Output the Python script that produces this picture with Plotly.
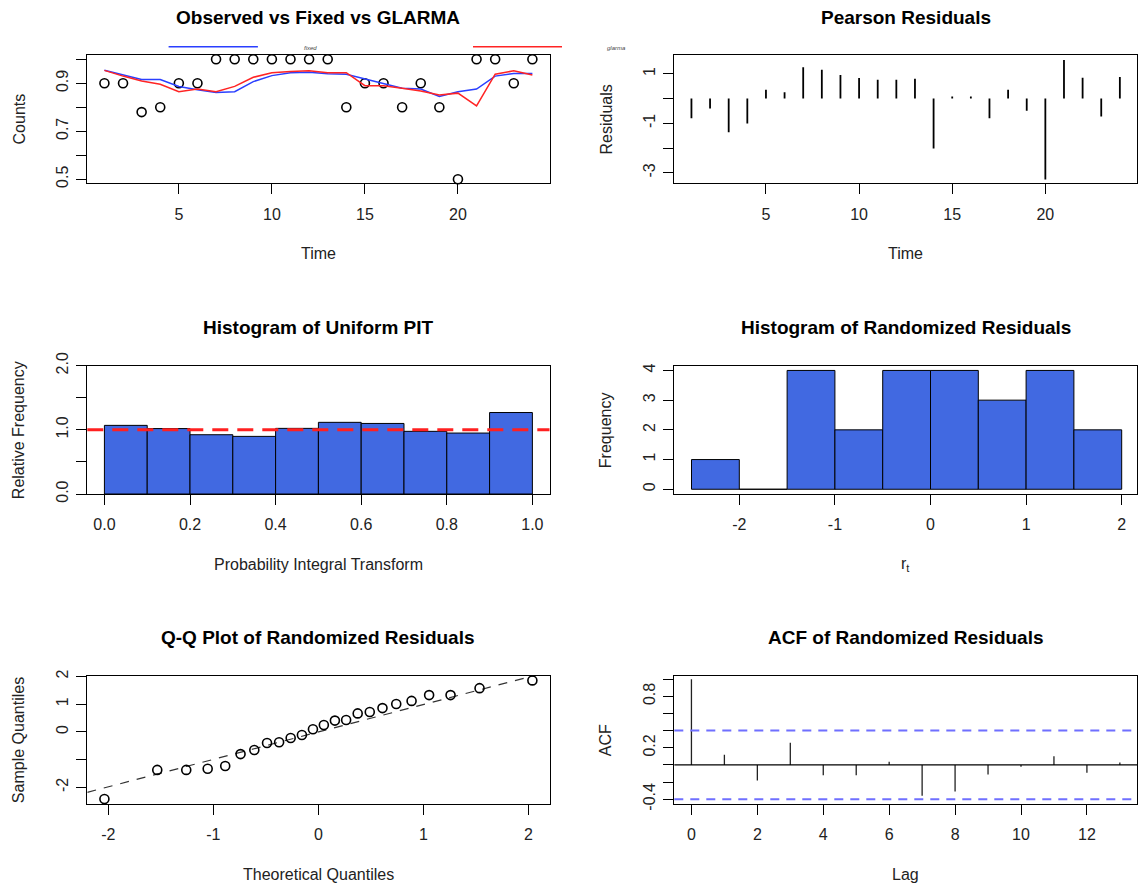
import plotly.graph_objects as go

W, H = 1138, 890

# ---------------- data ----------------
time = list(range(1, 25))
observed = [0.9, 0.9, 0.78, 0.8, 0.9, 0.9, 1.0, 1.0, 1.0, 1.0, 1.0, 1.0,
            1.0, 0.8, 0.9, 0.9, 0.8, 0.9, 0.8, 0.5, 1.0, 1.0, 0.9, 1.0]
fixed_fit = [0.954, 0.935, 0.916, 0.916, 0.887, 0.873, 0.862, 0.865, 0.907, 0.932, 0.944, 0.946,
             0.940, 0.938, 0.918, 0.897, 0.879, 0.876, 0.845, 0.865, 0.876, 0.930, 0.941, 0.941]
glarma_fit = [0.954, 0.930, 0.910, 0.896, 0.865, 0.876, 0.865, 0.887, 0.925, 0.944, 0.949, 0.952,
              0.944, 0.944, 0.890, 0.890, 0.879, 0.868, 0.851, 0.859, 0.806, 0.938, 0.952, 0.935]
pearson_resid = [-0.79, -0.40, -1.36, -1.01, 0.36, 0.26, 1.27, 1.16, 0.95, 0.83, 0.76, 0.76,
                 0.80, -2.02, 0.08, 0.08, -0.79, 0.36, -0.49, -3.27, 1.56, 0.84, -0.72, 0.87]

pit_bin_left = [0.0, 0.1, 0.2, 0.3, 0.4, 0.5, 0.6, 0.7, 0.8, 0.9]
pit_rel_freq = [1.07, 1.02, 0.924, 0.898, 1.023, 1.117, 1.10, 0.977, 0.95, 1.27]
pit_bin_width = 0.1

rr_bin_left = [-2.5, -2.0, -1.5, -1.0, -0.5, 0.0, 0.5, 1.0, 1.5]
rr_counts = [1, 0, 4, 2, 4, 4, 3, 4, 2]
rr_bin_width = 0.5

qq_theoretical = [-2.037, -1.534, -1.258, -1.054, -0.887, -0.741, -0.610, -0.489,
                  -0.374, -0.264, -0.157, -0.052, 0.052, 0.157, 0.264, 0.374,
                  0.489, 0.610, 0.741, 0.887, 1.054, 1.258, 1.534, 2.037]
qq_sample = [-2.42, -1.37, -1.37, -1.33, -1.23, -0.80, -0.65, -0.40,
             -0.37, -0.22, -0.11, 0.10, 0.25, 0.41, 0.43, 0.67,
             0.72, 0.86, 1.01, 1.12, 1.33, 1.33, 1.58, 1.86]
qqline_intercept = 0.0
qqline_slope = 0.99

acf_lag = list(range(14))
acf_value = [1.0, 0.12, -0.18, 0.26, -0.12, -0.12, 0.036, -0.36, -0.31, -0.11, -0.02, 0.10, -0.09, 0.028]
acf_ci = 0.40

# ---------------- layout helpers ----------------
FONT = "Liberation Sans, Arial, Helvetica, sans-serif"
TICKCOL = "#222"


def xdom(l, r):
    return [l / W, r / W]


def ydom(t, b):
    return [1 - b / H, 1 - t / H]


LX = (87.3, 549.5)
RX = (674.3, 1137.0)
ROWS = [(55.0, 183.3), (365.7, 494.0), (675.7, 804.0)]


def xaxis(dom, rng, tickvals, ticktext, anchor):
    return dict(domain=xdom(*dom), range=rng, tickvals=tickvals, ticktext=ticktext,
                anchor=anchor, showline=True, linecolor="black", linewidth=1, mirror=True,
                ticks="outside", ticklen=10, tickwidth=1, tickcolor="black",
                showgrid=False, zeroline=False, ticklabelstandoff=6, automargin=False,
                tickfont=dict(family=FONT, size=16, color=TICKCOL))


def yaxis(dom, rng, tickvals, ticktext, anchor):
    return dict(domain=ydom(*dom), range=rng, tickvals=tickvals, ticktext=ticktext,
                anchor=anchor, showline=True, linecolor="black", linewidth=1, mirror=True,
                ticks="outside", ticklen=10, tickwidth=1, tickcolor="black",
                showgrid=False, zeroline=False, tickangle=-90, ticklabelstandoff=2,
                automargin=False,
                tickfont=dict(family=FONT, size=16, color=TICKCOL))


fig = go.Figure()

# ---- panel 1: observed vs fixed vs glarma
fig.add_trace(go.Scatter(x=time, y=observed, mode="markers", xaxis="x", yaxis="y",
                         marker=dict(symbol="circle-open", size=9, color="black",
                                     line=dict(width=1.6, color="black")), cliponaxis=False))
fig.add_trace(go.Scatter(x=time, y=fixed_fit, mode="lines", xaxis="x", yaxis="y",
                         line=dict(color="#2a3fff", width=1.5)))
fig.add_trace(go.Scatter(x=time, y=glarma_fit, mode="lines", xaxis="x", yaxis="y",
                         line=dict(color="#ff2424", width=1.5)))

# ---- panel 2: pearson residuals (type = "h")
px, py = [], []
for t, r in zip(time, pearson_resid):
    px += [t, t, None]
    py += [0, r, None]
fig.add_trace(go.Scatter(x=px, y=py, mode="lines", xaxis="x2", yaxis="y2",
                         line=dict(color="black", width=1.8)))

# ---- panel 3: PIT histogram
fig.add_trace(go.Bar(x=[l + pit_bin_width / 2 for l in pit_bin_left], y=pit_rel_freq,
                     width=pit_bin_width, xaxis="x3", yaxis="y3",
                     marker=dict(color="#4169E1", line=dict(color="black", width=1))))

# ---- panel 4: randomized residual histogram
fig.add_trace(go.Bar(x=[l + rr_bin_width / 2 for l in rr_bin_left], y=rr_counts,
                     width=rr_bin_width, xaxis="x4", yaxis="y4",
                     marker=dict(color="#4169E1", line=dict(color="black", width=1))))

# ---- panel 5: QQ plot
qx = [-2.2, 2.2]
fig.add_trace(go.Scatter(x=qx, y=[qqline_intercept + qqline_slope * v for v in qx],
                         mode="lines", xaxis="x5", yaxis="y5",
                         line=dict(color="#333", width=1.2, dash="9px,8px")))
fig.add_trace(go.Scatter(x=qq_theoretical, y=qq_sample, mode="markers", xaxis="x5", yaxis="y5",
                         marker=dict(symbol="circle-open", size=9, color="black",
                                     line=dict(width=1.6, color="black")), cliponaxis=False))

# ---- panel 6: ACF
ax, ay = [], []
for l, v in zip(acf_lag, acf_value):
    ax += [l, l, None]
    ay += [0, v, None]
fig.add_trace(go.Scatter(x=ax, y=ay, mode="lines", xaxis="x6", yaxis="y6",
                         line=dict(color="#222", width=1.3)))

shapes = [
    # PIT reference line (abline h=1)
    dict(type="line", xref="x3 domain", yref="y3", x0=0, x1=1, y0=1, y1=1,
         line=dict(color="#ff2020", width=3, dash="16px,9px")),
    # ACF zero line and confidence bounds
    dict(type="line", xref="x6 domain", yref="y6", x0=0, x1=1, y0=0, y1=0,
         line=dict(color="black", width=1.3)),
    dict(type="line", xref="x6 domain", yref="y6", x0=0, x1=1, y0=acf_ci, y1=acf_ci,
         line=dict(color="#6f6fff", width=2, dash="9px,7px")),
    dict(type="line", xref="x6 domain", yref="y6", x0=0, x1=1, y0=-acf_ci, y1=-acf_ci,
         line=dict(color="#6f6fff", width=2, dash="9px,7px")),
    # tiny legend of panel 1
    dict(type="line", xref="paper", yref="paper", x0=168.6 / W, x1=257.9 / W,
         y0=1 - 46.7 / H, y1=1 - 46.7 / H, line=dict(color="#2a3fff", width=1.5)),
    dict(type="line", xref="paper", yref="paper", x0=473.0 / W, x1=562.0 / W,
         y0=1 - 46.7 / H, y1=1 - 46.7 / H, line=dict(color="#ff2424", width=1.5)),
]

annotations = []


def ann(text, xpx, ypx, size=16, bold=False, angle=0, color="#222"):
    annotations.append(dict(text=f"<b>{text}</b>" if bold else text, x=xpx / W, y=1 - ypx / H,
                            xref="paper", yref="paper", showarrow=False, textangle=angle,
                            xanchor="center", yanchor="middle",
                            font=dict(family=FONT, size=size, color=color)))


lc = (LX[0] + LX[1]) / 2
rc = (RX[0] + RX[1]) / 2
titles = [("Observed vs Fixed vs GLARMA", "Pearson Residuals"),
          ("Histogram of Uniform PIT", "Histogram of Randomized Residuals"),
          ("Q-Q Plot of Randomized Residuals", "ACF of Randomized Residuals")]
xtitles = [("Time", "Time"), ("Probability Integral Transform", "r<sub>t</sub>"),
           ("Theoretical Quantiles", "Lag")]
ytitles = [("Counts", "Residuals"), ("Relative Frequency", "Frequency"),
           ("Sample Quantiles", "ACF")]
for i, (top, bot) in enumerate(ROWS):
    ann(titles[i][0], lc, top - 38, size=19, bold=True, color="black")
    ann(titles[i][1], rc, top - 38, size=19, bold=True, color="black")
    ann(xtitles[i][0], lc, bot + 70.5, size=16)
    ann(xtitles[i][1], rc, bot + 70.5, size=16)
    ann(ytitles[i][0], LX[0] - 68, (top + bot) / 2, size=16, angle=-90)
    ann(ytitles[i][1], RX[0] - 68, (top + bot) / 2, size=16, angle=-90)

ann("<i>fixed</i>", 310, 47.7, size=6, color="#444")
ann("<i>glarma</i>", 616, 47.7, size=6, color="#444")

fig.update_layout(
    width=W, height=H, margin=dict(l=0, r=0, t=0, b=0, pad=0, autoexpand=False),
    paper_bgcolor="white", plot_bgcolor="white", showlegend=False,
    shapes=shapes, annotations=annotations,
    xaxis=xaxis(LX, [0.08, 24.92], [5, 10, 15, 20], ["5", "10", "15", "20"], "y"),
    yaxis=yaxis(ROWS[0], [0.483, 1.018], [0.5, 0.6, 0.7, 0.8, 0.9, 1.0],
                ["0.5", "", "0.7", "", "0.9", ""], "x"),
    xaxis2=xaxis(RX, [0.08, 24.92], [5, 10, 15, 20], ["5", "10", "15", "20"], "y2"),
    yaxis2=yaxis(ROWS[0], [-3.42, 1.76], [-3, -2, -1, 0, 1], ["-3", "", "-1", "", "1"], "x2"),
    xaxis3=xaxis(LX, [-0.04, 1.04], [0, 0.2, 0.4, 0.6, 0.8, 1.0],
                 ["0.0", "0.2", "0.4", "0.6", "0.8", "1.0"], "y3"),
    yaxis3=yaxis(ROWS[1], [0, 2], [0, 0.5, 1, 1.5, 2], ["0.0", "", "1.0", "", "2.0"], "x3"),
    xaxis4=xaxis(RX, [-2.68, 2.16], [-2, -1, 0, 1, 2], ["-2", "-1", "0", "1", "2"], "y4"),
    yaxis4=yaxis(ROWS[1], [-0.16, 4.16], [0, 1, 2, 3, 4], ["0", "1", "2", "3", "4"], "x4"),
    xaxis5=xaxis(LX, [-2.2, 2.2], [-2, -1, 0, 1, 2], ["-2", "-1", "0", "1", "2"], "y5"),
    yaxis5=yaxis(ROWS[2], [-2.6, 2.03], [-2, -1, 0, 1, 2], ["-2", "", "0", "1", "2"], "x5"),
    xaxis6=xaxis(RX, [-0.52, 13.52], [0, 2, 4, 6, 8, 10, 12],
                 ["0", "2", "4", "6", "8", "10", "12"], "y6"),
    yaxis6=yaxis(ROWS[2], [-0.455, 1.04], [-0.4, -0.2, 0, 0.2, 0.4, 0.6, 0.8, 1.0],
                 ["-0.4", "", "", "0.2", "", "", "0.8", ""], "x6"),
)

fig.write_html("out.html")
